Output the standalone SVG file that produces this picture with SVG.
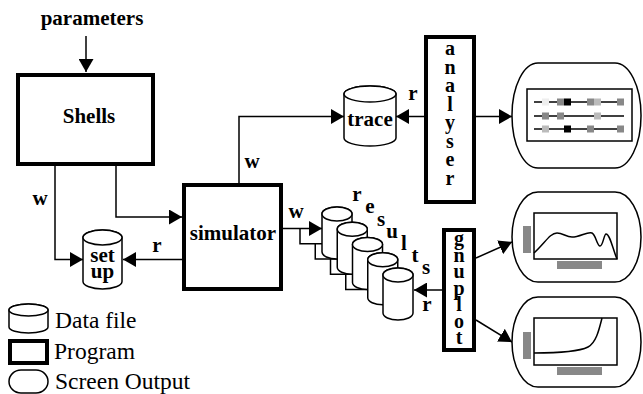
<svg xmlns="http://www.w3.org/2000/svg" width="643" height="394" viewBox="0 0 643 394">
<defs>
<marker id="ah" viewBox="0 0 13 15" refX="13" refY="7.5" markerWidth="13" markerHeight="15" markerUnits="userSpaceOnUse" orient="auto">
<path d="M0,0 L13,7.5 L0,15 Z" fill="#000"/>
</marker>
</defs>
<rect width="643" height="394" fill="#fff"/>

<g id="connectors" fill="none" stroke="#000" stroke-width="1.5">
<line x1="86" y1="36" x2="86" y2="72" marker-end="url(#ah)"/>
<path d="M55,166 V259.5 H83" marker-end="url(#ah)"/>
<path d="M116,166 V217 H182" marker-end="url(#ah)"/>
<line x1="182" y1="259.5" x2="123" y2="259.5" marker-end="url(#ah)"/>
<path d="M239,183 V116.5 H344" marker-end="url(#ah)"/>
<line x1="424" y1="116.5" x2="396" y2="116.5" marker-end="url(#ah)"/>
<line x1="476" y1="116.5" x2="512" y2="116.5" marker-end="url(#ah)"/>
<path d="M283,228.5 H322" marker-end="url(#ah)"/>
<path d="M300,228.5 V243.75 H337.25" marker-end="url(#ah)"/>
<path d="M315.25,243.75 V259 H352.5" marker-end="url(#ah)"/>
<path d="M330.5,259 V274.25 H367.75" marker-end="url(#ah)"/>
<path d="M345.75,274.25 V289.5 H383" marker-end="url(#ah)"/>
<line x1="442" y1="290" x2="414" y2="290" marker-end="url(#ah)"/>
<line x1="476" y1="258" x2="512" y2="242" marker-end="url(#ah)"/>
<line x1="476" y1="320" x2="512" y2="342" marker-end="url(#ah)"/>
</g>
<g id="connector-labels">
<text x="40" y="205" font-family="Liberation Serif" font-weight="bold" font-size="21" text-anchor="middle">w</text>
<text x="157" y="252" font-family="Liberation Serif" font-weight="bold" font-size="21" text-anchor="middle">r</text>
<text x="252" y="168" font-family="Liberation Serif" font-weight="bold" font-size="21" text-anchor="middle">w</text>
<text x="413" y="100" font-family="Liberation Serif" font-weight="bold" font-size="21" text-anchor="middle">r</text>
<text x="296" y="218" font-family="Liberation Serif" font-weight="bold" font-size="21" text-anchor="middle">w</text>
<text x="427" y="311" font-family="Liberation Serif" font-weight="bold" font-size="21" text-anchor="middle">r</text>
</g>

<g id="parameters"><text x="92" y="25" font-family="Liberation Serif" font-weight="bold" font-size="21" text-anchor="middle">parameters</text></g>

<g id="shells">
<rect x="18" y="75" width="135" height="89" fill="#fff" stroke="#000" stroke-width="4"/>
<text x="89" y="123" font-family="Liberation Serif" font-weight="bold" font-size="21" text-anchor="middle">Shells</text>
</g>

<g id="simulator">
<rect x="184" y="185" width="97" height="104" fill="#fff" stroke="#000" stroke-width="4"/>
<text x="233" y="240" font-family="Liberation Serif" font-weight="bold" font-size="21" text-anchor="middle">simulator</text>
</g>

<g id="setup">
<path d="M83,237.5 A19.5,7.5 0 0 1 122,237.5 V281.5 A19.5,7.5 0 0 1 83,281.5 Z" fill="#fff" stroke="#000" stroke-width="1.5"/>
<ellipse cx="102.5" cy="237.5" rx="19.5" ry="7.5" fill="#fff" stroke="#000" stroke-width="1.5"/>
<text x="102.5" y="262" font-family="Liberation Serif" font-weight="bold" font-size="21" text-anchor="middle">set</text>
<text x="102.5" y="278" font-family="Liberation Serif" font-weight="bold" font-size="21" text-anchor="middle">up</text>
</g>

<g id="trace">
<path d="M344,94 A26,8 0 0 1 396,94 V138 A26,8 0 0 1 344,138 Z" fill="#fff" stroke="#000" stroke-width="1.5"/>
<ellipse cx="370" cy="94" rx="26" ry="8" fill="#fff" stroke="#000" stroke-width="1.5"/>
<text x="370" y="126" font-family="Liberation Serif" font-weight="bold" font-size="21" text-anchor="middle">trace</text>
</g>

<g id="analyser">
<rect x="426" y="37" width="48" height="165" fill="#fff" stroke="#000" stroke-width="4"/>
<text x="450" y="55" font-family="Liberation Serif" font-weight="bold" font-size="20" text-anchor="middle">a</text>
<text x="450" y="73.5" font-family="Liberation Serif" font-weight="bold" font-size="20" text-anchor="middle">n</text>
<text x="450" y="92" font-family="Liberation Serif" font-weight="bold" font-size="20" text-anchor="middle">a</text>
<text x="450" y="110.5" font-family="Liberation Serif" font-weight="bold" font-size="20" text-anchor="middle">l</text>
<text x="450" y="129" font-family="Liberation Serif" font-weight="bold" font-size="20" text-anchor="middle">y</text>
<text x="450" y="147.5" font-family="Liberation Serif" font-weight="bold" font-size="20" text-anchor="middle">s</text>
<text x="450" y="166" font-family="Liberation Serif" font-weight="bold" font-size="20" text-anchor="middle">e</text>
<text x="450" y="184.5" font-family="Liberation Serif" font-weight="bold" font-size="20" text-anchor="middle">r</text>
</g>

<g id="results" fill="#fff" stroke="#000" stroke-width="1.5">
<path d="M322,214 A15,7 0 0 1 352,214 V252 A15,7 0 0 1 322,252 Z"/>
<ellipse cx="337" cy="214" rx="15" ry="7"/>
<path d="M337.25,229.25 A15,7 0 0 1 367.25,229.25 V267.25 A15,7 0 0 1 337.25,267.25 Z"/>
<ellipse cx="352.25" cy="229.25" rx="15" ry="7"/>
<path d="M352.5,244.5 A15,7 0 0 1 382.5,244.5 V282.5 A15,7 0 0 1 352.5,282.5 Z"/>
<ellipse cx="367.5" cy="244.5" rx="15" ry="7"/>
<path d="M367.75,259.75 A15,7 0 0 1 397.75,259.75 V297.75 A15,7 0 0 1 367.75,297.75 Z"/>
<ellipse cx="382.75" cy="259.75" rx="15" ry="7"/>
<path d="M383,275 A15,7 0 0 1 413,275 V313 A15,7 0 0 1 383,313 Z"/>
<ellipse cx="398" cy="275" rx="15" ry="7"/>
<text x="357" y="201" fill="#000" stroke="none" font-family="Liberation Serif" font-weight="bold" font-size="21" text-anchor="middle">r</text>
<text x="370" y="213" fill="#000" stroke="none" font-family="Liberation Serif" font-weight="bold" font-size="21" text-anchor="middle">e</text>
<text x="381" y="226" fill="#000" stroke="none" font-family="Liberation Serif" font-weight="bold" font-size="21" text-anchor="middle">s</text>
<text x="392" y="238" fill="#000" stroke="none" font-family="Liberation Serif" font-weight="bold" font-size="21" text-anchor="middle">u</text>
<text x="404" y="250" fill="#000" stroke="none" font-family="Liberation Serif" font-weight="bold" font-size="21" text-anchor="middle">l</text>
<text x="415" y="262" fill="#000" stroke="none" font-family="Liberation Serif" font-weight="bold" font-size="21" text-anchor="middle">t</text>
<text x="426" y="274" fill="#000" stroke="none" font-family="Liberation Serif" font-weight="bold" font-size="21" text-anchor="middle">s</text>
</g>

<g id="gnuplot">
<rect x="444" y="230" width="30" height="120" fill="#fff" stroke="#000" stroke-width="4"/>
<text x="459" y="245" font-family="Liberation Serif" font-weight="bold" font-size="20" text-anchor="middle">g</text>
<text x="459" y="261.5" font-family="Liberation Serif" font-weight="bold" font-size="20" text-anchor="middle">n</text>
<text x="459" y="278" font-family="Liberation Serif" font-weight="bold" font-size="20" text-anchor="middle">u</text>
<text x="459" y="294.5" font-family="Liberation Serif" font-weight="bold" font-size="20" text-anchor="middle">p</text>
<text x="459" y="311" font-family="Liberation Serif" font-weight="bold" font-size="20" text-anchor="middle">l</text>
<text x="459" y="327.5" font-family="Liberation Serif" font-weight="bold" font-size="20" text-anchor="middle">o</text>
<text x="459" y="344" font-family="Liberation Serif" font-weight="bold" font-size="20" text-anchor="middle">t</text>
</g>

<g id="screen1">
<rect x="512" y="63" width="129" height="105" rx="26" ry="52" fill="#fff" stroke="#000" stroke-width="1.5"/>
<rect x="527" y="89" width="105" height="52" fill="#fff" stroke="#000" stroke-width="1.5"/>
<g stroke="#000" stroke-width="1.5">
<line x1="534" y1="102" x2="624" y2="102"/>
<line x1="534" y1="116" x2="624" y2="116"/>
<line x1="534" y1="129" x2="624" y2="129"/>
</g>
<rect x="542" y="98.5" width="7" height="7" fill="#eee"/>
<rect x="557" y="98.5" width="7" height="7" fill="#888"/>
<rect x="564" y="98.5" width="7" height="7" fill="#000"/>
<rect x="587" y="98.5" width="7" height="7" fill="#888"/>
<rect x="594" y="98.5" width="7" height="7" fill="#bbb"/>
<rect x="617" y="98.5" width="7" height="7" fill="#888"/>
<rect x="542" y="112.5" width="7" height="7" fill="#888"/>
<rect x="557" y="112.5" width="7" height="7" fill="#888"/>
<rect x="594" y="112.5" width="7" height="7" fill="#bbb"/>
<rect x="542" y="125.5" width="7" height="7" fill="#bbb"/>
<rect x="564" y="125.5" width="7" height="7" fill="#000"/>
<rect x="587" y="125.5" width="7" height="7" fill="#888"/>
<rect x="617" y="125.5" width="7" height="7" fill="#888"/>
</g>

<g id="screen2">
<rect x="512" y="192" width="129" height="90" rx="26" ry="45" fill="#fff" stroke="#000" stroke-width="1.5"/>
<rect x="534" y="213" width="83" height="46" fill="#fff" stroke="#000" stroke-width="1.5"/>
<rect x="523" y="226" width="8" height="27" fill="#888"/>
<rect x="557" y="261" width="45" height="8" fill="#888"/>
<path fill="none" stroke="#000" stroke-width="1.5" d="M534,253 C545,243 550,233 557,233 C563,233 566,237 572,237 C580,237 588,231 592,233 C596,235 597,246 600,246 C603,246 604,234 606,234 C610,234 613,250 617,259"/>
</g>

<g id="screen3">
<rect x="512" y="297" width="129" height="90" rx="26" ry="45" fill="#fff" stroke="#000" stroke-width="1.5"/>
<rect x="534" y="318" width="83" height="47" fill="#fff" stroke="#000" stroke-width="1.5"/>
<rect x="523" y="332" width="8" height="27" fill="#888"/>
<rect x="557" y="367" width="45" height="8" fill="#888"/>
<path fill="none" stroke="#000" stroke-width="1.5" d="M534,353 C560,353 580,351 588,347 C596,343 599,330 602,318"/>
</g>

<g id="legend">
<path d="M9,310 A19.5,6 0 0 1 48,310 V327 A19.5,6 0 0 1 9,327 Z" fill="#fff" stroke="#000" stroke-width="1.5"/>
<ellipse cx="28.5" cy="310" rx="19.5" ry="6" fill="#fff" stroke="#000" stroke-width="1.5"/>
<text x="55" y="328" font-family="Liberation Serif" font-size="23.5">Data file</text>
<rect x="10" y="341" width="37" height="22" fill="#fff" stroke="#000" stroke-width="4"/>
<text x="54" y="359" font-family="Liberation Serif" font-size="23.5">Program</text>
<rect x="9" y="370" width="39" height="23" rx="12" ry="11.5" fill="#fff" stroke="#000" stroke-width="1.5"/>
<text x="55" y="389" font-family="Liberation Serif" font-size="23.5">Screen Output</text>
</g>
</svg>
